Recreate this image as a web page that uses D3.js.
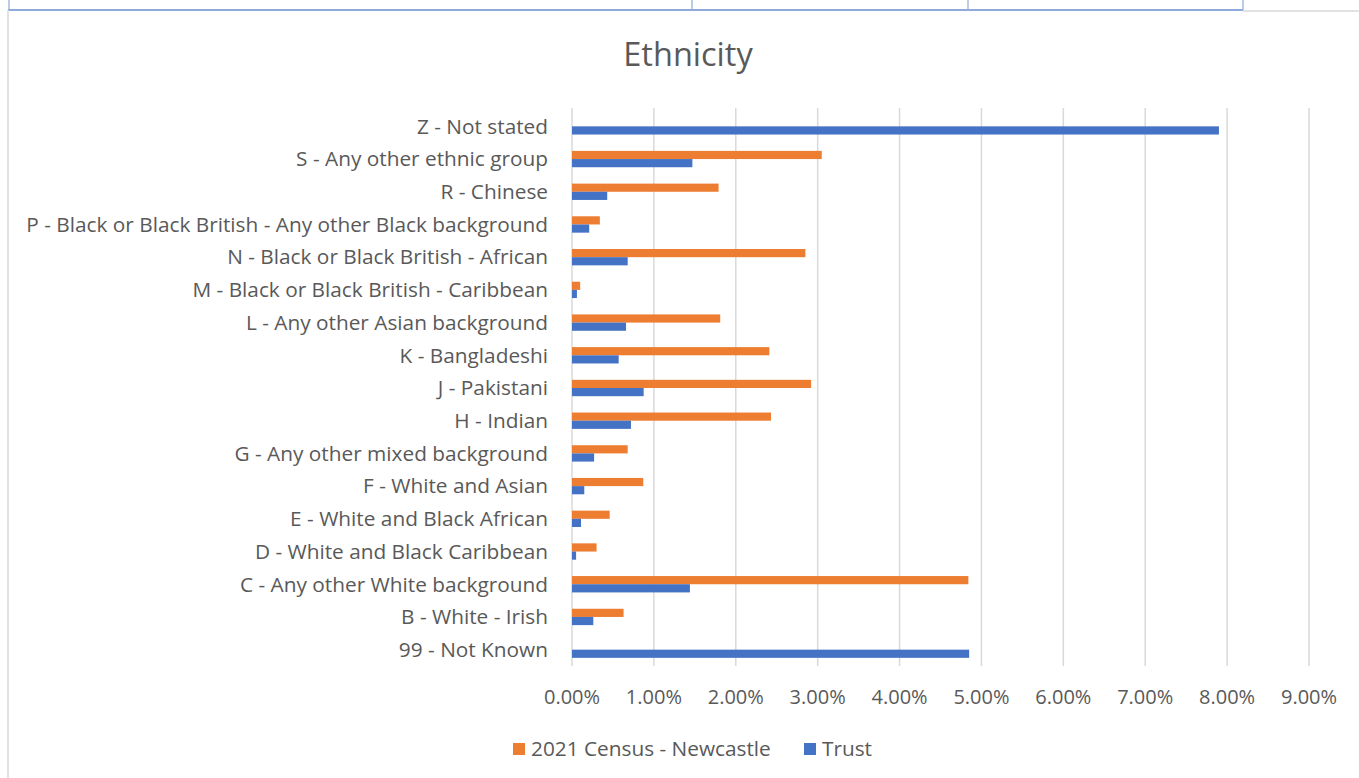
<!DOCTYPE html>
<html lang="en">
<head>
  <meta charset="UTF-8">
  <title>Ethnicity</title>
  <script src="https://d3js.org/d3.v7.min.js"></script>
  <style>
    body { margin: 0; background: #fff; font-family: "Open Sans", Lato, sans-serif; }
    svg text { fill: #595959; }
  </style>
</head>
<body>
  <div id="chart"></div>
  <script>
    // categories, bottom to top as in the source sheet
    const categories = [
      "99 - Not Known",
      "B - White - Irish",
      "C - Any other White background",
      "D - White and Black Caribbean",
      "E - White and Black African",
      "F - White and Asian",
      "G - Any other mixed background",
      "H - Indian",
      "J - Pakistani",
      "K - Bangladeshi",
      "L - Any other Asian background",
      "M - Black or Black British - Caribbean",
      "N - Black or Black British - African",
      "P - Black or Black British - Any other Black background",
      "R - Chinese",
      "S - Any other ethnic group",
      "Z - Not stated"
    ];
    const census = [null, 0.63, 4.84, 0.30, 0.46, 0.87, 0.68, 2.43, 2.92, 2.41, 1.81, 0.10, 2.85, 0.34, 1.79, 3.05, null];
    const trust  = [4.85, 0.26, 1.44, 0.05, 0.11, 0.15, 0.27, 0.72, 0.875, 0.57, 0.66, 0.06, 0.68, 0.21, 0.43, 1.47, 7.90];
    const tickValues = [0, 1, 2, 3, 4, 5, 6, 7, 8, 9];
    const seriesNames = ["2021 Census - Newcastle", "Trust"];
    const colors = ["#ED7D31", "#4472C4"];

    const width = 1359, height = 778;
    const margin = { left: 572, right: 50, top: 110, bottom: 112 };

    const svg = d3.select("#chart").append("svg")
      .attr("width", width).attr("height", height);

    // page borders around the chart (table cell lines)
    const frame = svg.append("g");
    frame.append("line").attr("x1", 8).attr("x2", 1243).attr("y1", 10).attr("y2", 10)
      .attr("stroke", "#8eaadb").attr("stroke-width", 2);
    [9, 692, 968, 1243].forEach(x => frame.append("line")
      .attr("x1", x).attr("x2", x).attr("y1", 0).attr("y2", 10)
      .attr("stroke", "#8eaadb").attr("stroke-width", 1.2));
    frame.append("line").attr("x1", 1243).attr("x2", width).attr("y1", 11).attr("y2", 11)
      .attr("stroke", "#d9d9d9").attr("stroke-width", 1.5);
    frame.append("line").attr("x1", 8).attr("x2", 8).attr("y1", 10).attr("y2", height)
      .attr("stroke", "#d9d9d9").attr("stroke-width", 1.5);

    const x = d3.scaleLinear().domain([0, 9]).range([margin.left, width - margin.right]);
    const y = d3.scaleBand().domain(categories.slice().reverse())
      .range([margin.top, height - margin.bottom]).padding(0);
    const barH = y.bandwidth() / 4;

    // gridlines
    svg.append("g").selectAll("line").data(tickValues).join("line")
      .attr("x1", d => x(d)).attr("x2", d => x(d))
      .attr("y1", margin.top - 2).attr("y2", height - margin.bottom)
      .attr("stroke", "#d9d9d9").attr("stroke-width", 1.5);

    // bars
    const rows = categories.map((c, i) => ({ c, census: census[i], trust: trust[i] }));
    const g = svg.append("g");
    g.selectAll(".census").data(rows.filter(d => d.census != null)).join("rect")
      .attr("x", x(0))
      .attr("y", d => y(d.c) + y.bandwidth() / 2 - barH)
      .attr("width", d => x(d.census) - x(0))
      .attr("height", barH)
      .attr("fill", colors[0]);
    g.selectAll(".trust").data(rows.filter(d => d.trust != null)).join("rect")
      .attr("x", x(0))
      .attr("y", d => y(d.c) + y.bandwidth() / 2)
      .attr("width", d => x(d.trust) - x(0))
      .attr("height", barH)
      .attr("fill", colors[1]);

    // category labels
    svg.append("g").selectAll("text").data(categories).join("text")
      .attr("x", margin.left - 24)
      .attr("y", d => y(d) + y.bandwidth() / 2)
      .attr("dy", "0.35em")
      .attr("text-anchor", "end")
      .attr("font-size", 20.8)
      .text(d => d);

    // x tick labels
    svg.append("g").selectAll("text").data(tickValues).join("text")
      .attr("x", d => x(d))
      .attr("y", 697)
      .attr("dy", "0.35em")
      .attr("text-anchor", "middle")
      .attr("font-size", 20)
      .text(d => d3.format(".2f")(d) + "%");

    // title
    svg.append("text")
      .attr("x", 688).attr("y", 55).attr("dy", "0.35em")
      .attr("text-anchor", "middle")
      .attr("font-size", 32.5)
      .text("Ethnicity");

    // legend
    const legendX = [513, 804];
    const legend = svg.append("g").selectAll("g").data(seriesNames).join("g")
      .attr("transform", (d, i) => `translate(${legendX[i]},749)`);
    legend.append("rect").attr("x", 0).attr("y", -6).attr("width", 12).attr("height", 12)
      .attr("fill", (d, i) => colors[i]);
    legend.append("text").attr("x", 18).attr("dy", "0.35em")
      .attr("font-size", 20.8).text(d => d);
  </script>
</body>
</html>
